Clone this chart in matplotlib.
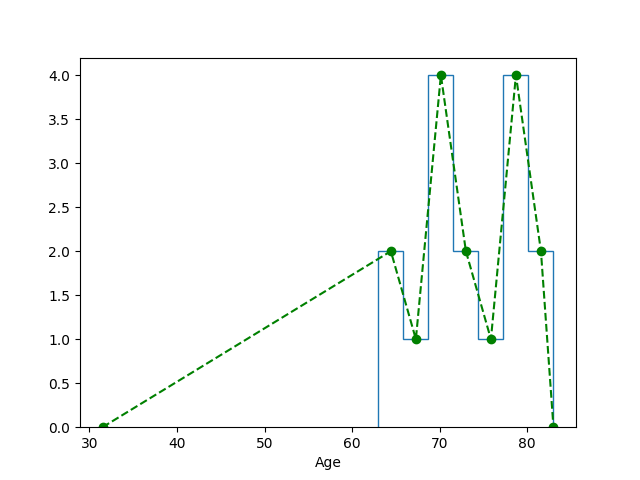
import numpy as np
import matplotlib
matplotlib.use("Agg")
import matplotlib.pyplot as plt

# ages that give the step histogram (7 bins, 63..83)
ages = [63, 65, 66, 69, 70, 70, 71, 72, 73, 75, 78, 78, 79, 80, 81, 83]

# extra end points of the frequency polygon
start_x, start_y = 31.5, 0
end_x, end_y = 83.0, 0

fig, ax = plt.subplots(figsize=(6.4, 4.8), dpi=100)

counts, edges, _ = ax.hist(ages, bins=7, histtype="step")
centers = (edges[:-1] + edges[1:]) / 2

poly_x = np.concatenate([[start_x], centers, [end_x]])
poly_y = np.concatenate([[start_y], counts, [end_y]])
ax.plot(poly_x, poly_y, "go--")

ax.set_xlabel("Age")

fig.savefig("out.png")
